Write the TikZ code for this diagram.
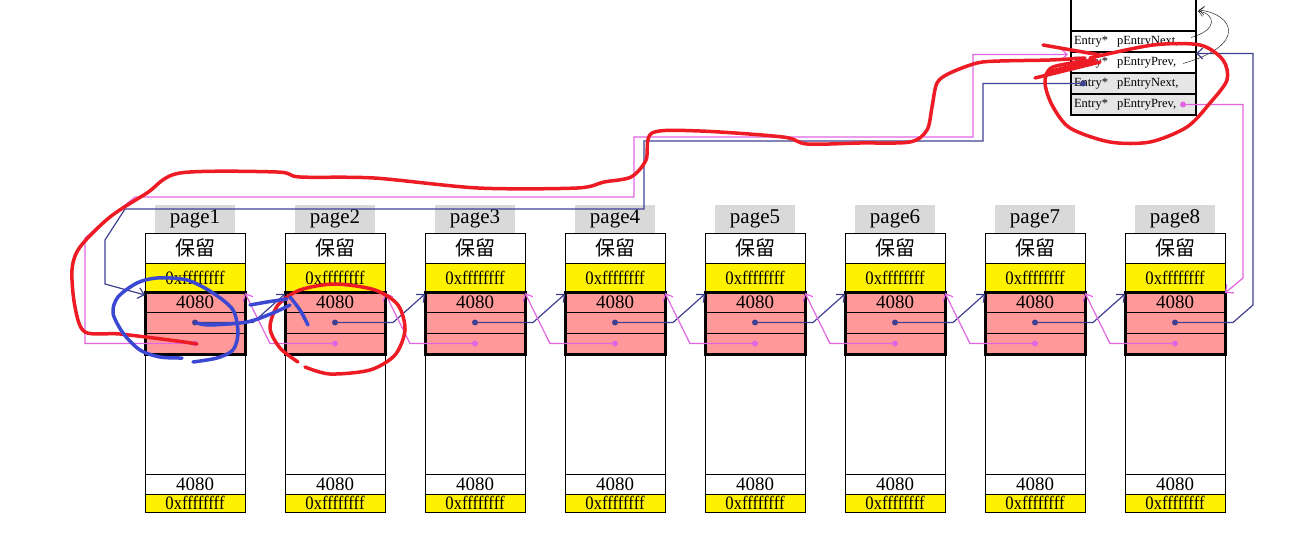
\documentclass[tikz,border=0pt]{standalone}
\usepackage{fontspec}
\setmainfont{Liberation Serif}
\newfontfamily\cjk{Noto Sans CJK SC}
\usetikzlibrary{arrows.meta}
\usetikzlibrary{calc,positioning}
\definecolor{nextc}{RGB}{64,64,144}
\definecolor{prevc}{RGB}{226,100,226}
\definecolor{blkc}{RGB}{255,153,153}
\definecolor{lblc}{RGB}{217,217,217}
\definecolor{entc}{RGB}{230,230,230}
\definecolor{redpen}{RGB}{237,28,36}
\definecolor{bluepen}{RGB}{59,72,209}
\newcommand{\hexff}{\scalebox{0.88}[1]{0xffffffff}}

\begin{document}
\begin{tikzpicture}[x=1pt,y=-1pt,
  cell/.style={draw,line width=0.9pt,minimum width=100pt,inner sep=0pt,outer sep=0pt,
    font=\fontsize{19}{19}\selectfont},
  lbl/.style={fill=lblc,minimum width=80pt,minimum height=28pt,inner sep=0pt,
    font=\fontsize{21}{21}\selectfont},
  ent/.style={draw,line width=1.3pt,minimum width=125pt,minimum height=21pt,inner sep=0pt,
    outer sep=0pt,text width=119pt,align=left,font=\fontsize{12.5}{12.5}\selectfont},
  nextln/.style={draw=nextc,line width=1.2pt,-{Straight Barb[length=6pt,width=11pt]}},
  prevln/.style={draw=prevc,line width=1.2pt,-{Straight Barb[length=6pt,width=11pt]}},
  pen/.style={line width=3.5pt,line cap=round,line join=round}]
\useasboundingbox (0,0) rectangle (1315,546);

% the eight pages
\foreach \k in {1,...,8}{
  \pgfmathsetmacro\px{145+140*(\k-1)}
  \node[cell,minimum height=30pt,anchor=north west,font=\cjk\fontsize{20}{20}\selectfont]
    (res\k) at (\px,233) {保留};
  \node[lbl,above=0pt of res\k] (lb\k) {page\k};
  \node[cell,fill=yellow,minimum height=29pt,below=0pt of res\k] (ff\k) {\hexff};
  \node[cell,fill=blkc,minimum height=20pt,below=0pt of ff\k] (hd\k) {4080};
  \node[cell,fill=blkc,minimum height=21pt,below=0pt of hd\k] (nx\k) {};
  \node[cell,fill=blkc,minimum height=21pt,below=0pt of nx\k] (pv\k) {};
  \node[cell,minimum height=120pt,below=0pt of pv\k] (bd\k) {};
  \node[cell,minimum height=20pt,below=0pt of bd\k] (sz\k) {4080};
  \node[cell,fill=yellow,minimum height=18pt,below=0pt of sz\k] (tl\k) {\hexff};
  \draw[line width=3pt] (hd\k.north west) rectangle (pv\k.south east);
  \fill[nextc] (nx\k.center) circle (3pt);
  \fill[prevc] (pv\k.center) circle (3pt);
}

% list head
\node[ent,minimum height=34pt,anchor=north west] (etop) at (1071,-3) {};
\node[ent,below=0pt of etop] (en1) {\makebox[43pt][l]{Entry*}pEntryNext,};
\node[ent,below=0pt of en1] (ep1) {\makebox[43pt][l]{Entry*}pEntryPrev,};
\node[ent,fill=entc,below=0pt of ep1] (en2) {\makebox[43pt][l]{Entry*}pEntryNext,};
\node[ent,fill=entc,below=0pt of en2] (ep2) {\makebox[43pt][l]{Entry*}pEntryPrev,};
\coordinate (hn) at ([xshift=12pt]en2.west);
\coordinate (hp) at ([xshift=-13pt]ep2.east);
\fill[nextc] (hn) circle (3pt);
\fill[prevc] (hp) circle (3pt);
\draw[thin,-{Straight Barb[length=5pt,width=9pt]}] ([xshift=-5pt,yshift=4pt]en1.east)
  .. controls (1218,30) and (1216,14) .. (1198,11);
\draw[thin,-{Straight Barb[length=5pt,width=9pt]}] ([xshift=-13pt,yshift=-1pt]ep1.east)
  .. controls (1248,45) and (1234,14) .. (1199,10);

% links between pages
\foreach \k [evaluate=\k as \j using int(\k+1)] in {1,...,7}{
  \draw[nextln] (nx\k.center) -- ([xshift=8pt]nx\k.east) -- ([yshift=-2pt]hd\j.north west);
  \draw[prevln] (pv\j.center) -- ([xshift=-15pt]pv\j.west) -- ([yshift=-1pt]hd\k.north east);
}

% links to the head
\draw[nextln] (hn) -- (983,83.5) -- (983,141) -- (644,141) -- (644,209) -- (125,209)
  -- (105,240) -- (105,284) -- ([yshift=-3pt]hd1.north west);
\draw[prevln] (pv1.center) -- (85,343.5) -- (85,238) -- (135,197) -- (634,197)
  -- (634,137) -- (973,137) |- ([xshift=-3pt,yshift=8pt]ep1.west);
\draw[prevln] (hp) -- (1243,104.5) -- (1243,278) -- ([yshift=-1pt]hd8.north east);
\draw[nextln] (nx8.center) -- (1233,322.5) -- (1253,305) |- ([yshift=9pt]ep1.east);

% pen marks
\draw[pen,redpen] plot[smooth] coordinates {(197,344) (177,341) (120,334) (85,332) (75,307)
  (72,270) (80,247) (110,217) (147,193) (180,173) (277,172) (300,177) (374,178) (478,188)
  (577,188) (604,182) (631,177) (646,160) (652,133) (700,131) (783,137) (807,144) (860,143)
  (910,142) (927,130) (932,107) (937,83) (950,73) (977,63) (1000,61) (1050,60) (1085,58)};
\draw[pen,redpen] plot[smooth] coordinates {(1090,58) (1153,45) (1200,45) (1223,60) (1227,80)
  (1210,103) (1187,127) (1150,142) (1110,142) (1070,128) (1052,105) (1045,82) (1053,67)
  (1095,60)};
\draw[pen,redpen] (1043,45) -- (1100,55);
\draw[pen,redpen] (1035,78) -- (1100,62);
\draw[pen,redpen] (1048,72) -- (1095,60);
\draw[pen,redpen] plot[smooth] coordinates {(298,362) (280,348) (270,328) (278,305) (300,290)
  (335,284) (375,290) (398,305) (405,330) (395,355) (370,370) (330,374) (305,367)};
\draw[pen,bluepen] plot[smooth] coordinates {(182,358) (160,357) (140,350) (123,333) (113,313)
  (118,297) (137,283) (157,278) (187,280) (213,293) (233,310) (238,333) (233,350) (217,358)
  (193,362)};
\draw[pen,bluepen] plot[smooth] coordinates {(197,323) (210,325) (247,322) (273,313) (290,305)};
\draw[pen,bluepen] plot[smooth] coordinates {(250,305) (267,302) (287,299)};
\draw[pen,bluepen] plot[smooth] coordinates {(290,297) (300,310) (308,325)};
\end{tikzpicture}
\end{document}
